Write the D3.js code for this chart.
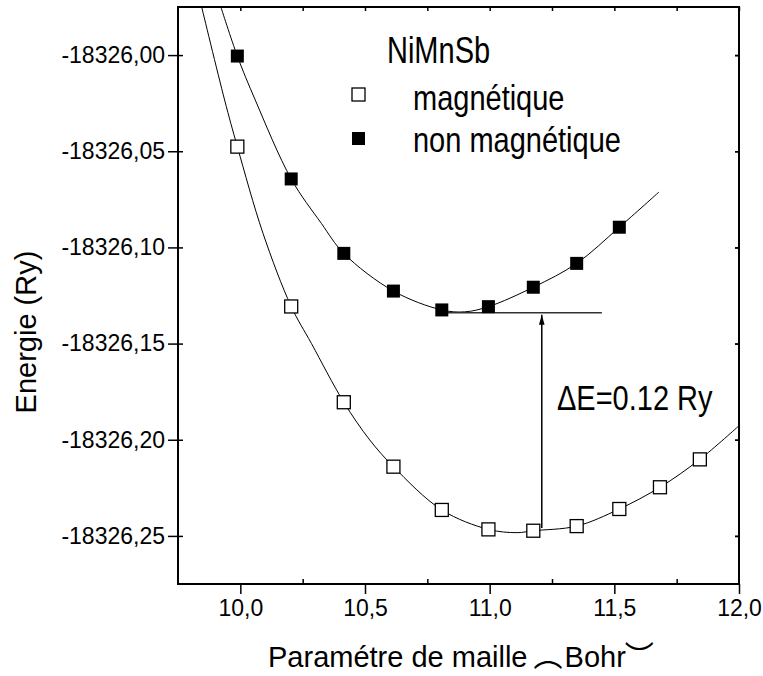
<!DOCTYPE html><meta charset="utf-8">
<html>
    <head>
        <title>NiMnSb energie</title>
        <script src="https://cdn.jsdelivr.net/npm/d3@7/dist/d3.min.js" type="text/JavaScript"></script>
        <style>
            body { margin: 0; background: #fff; }
            text { font-family: Arial, "Liberation Sans", sans-serif; fill: #000; }
        </style>
    </head>
    <body>
        <svg id='viz'></svg>

        <script>
            // data (lattice parameter in Bohr, energy in Ry)
            var magX = [9.988, 10.204, 10.415, 10.614, 10.808, 10.995, 11.175, 11.349, 11.520, 11.683, 11.843];
            var magE = [-18326.0476, -18326.1307, -18326.1805, -18326.2140, -18326.2365, -18326.2466,
                        -18326.2473, -18326.2449, -18326.2360, -18326.2247, -18326.2102];

            var nonMagX = [9.988, 10.204, 10.415, 10.614, 10.808, 10.995, 11.175, 11.349, 11.520];
            var nonMagE = [-18326.0005, -18326.0644, -18326.1031, -18326.1227, -18326.1325, -18326.1308,
                           -18326.1207, -18326.1083, -18326.0895];

            // fitted curves, also
            var fitMagX = [9.845, 9.937, 9.988, 10.091, 10.204, 10.285, 10.415, 10.519, 10.614, 10.808,
                           10.995, 11.11, 11.175, 11.349, 11.52, 11.683, 11.843, 12.0];
            var fitMagE = [-18325.975, -18326.0234, -18326.0476, -18326.0927, -18326.1307, -18326.1499,
                           -18326.1805, -18326.2001, -18326.2140, -18326.2365, -18326.2466, -18326.2483,
                           -18326.2473, -18326.2449, -18326.2360, -18326.2247, -18326.2102, -18326.1927];

            var fitNonMagX = [9.922, 9.988, 10.06, 10.204, 10.325, 10.415, 10.614, 10.808, 10.9, 10.995,
                              11.175, 11.349, 11.52, 11.679];
            var fitNonMagE = [-18325.975, -18326.0005, -18326.0234, -18326.0644, -18326.0875, -18326.1031,
                              -18326.1227, -18326.1325, -18326.1335, -18326.1308, -18326.1207, -18326.1083,
                              -18326.0895, -18326.0712];

            var xTicks = [10.0, 10.5, 11.0, 11.5, 12.0];
            var yTicks = [-18326.00, -18326.05, -18326.10, -18326.15, -18326.20, -18326.25];

            var deltaLevel = -18326.134;   // minimum of the non magnetic curve
            var deltaX = 11.209;
            var deltaBottom = -18326.2459;
            var deltaLine = [10.808, 11.45];

            var legendLabels = ["magnétique", "non magnétique"];

            var width = 763;
            var height = 676;
            var margin = {left: 178, top: 7, right: 24, bottom: 92};

            var svg = d3.select("#viz").attr("width", width).attr("height", height);

            var x = d3.scaleLinear().domain([9.75, 12.0]).range([margin.left, width - margin.right]);
            var y = d3.scaleLinear().domain([-18326.275, -18325.975]).range([height - margin.bottom, margin.top]);

            var comma = function(d, digits) { return d.toFixed(digits).replace(".", ","); };

            svg.append("clipPath").attr("id", "clip")
                .append("rect")
                .attr("x", x.range()[0]).attr("y", y.range()[1])
                .attr("width", x.range()[1] - x.range()[0])
                .attr("height", y.range()[0] - y.range()[1]);

            // axes: major ticks outward, minor ticks inward
            var xMinor = d3.range(10.25, 12.0, 0.5);
            var yMinor = d3.range(-18326.275, -18325.975, 0.05).map(function(d) { return d + 0.025; });

            var bottom = svg.append("g").attr("transform", "translate(0," + y.range()[0] + ")");
            bottom.call(d3.axisBottom(x).tickValues(xTicks).tickSizeInner(10).tickSizeOuter(0).tickPadding(6)
                .tickFormat(function(d) { return comma(d, 1); }));
            bottom.append("g").call(d3.axisTop(x).tickValues(xMinor).tickSize(5).tickSizeOuter(0).tickFormat(""));

            var left = svg.append("g").attr("transform", "translate(" + x.range()[0] + ",0)");
            left.call(d3.axisLeft(y).tickValues(yTicks).tickSizeInner(10).tickSizeOuter(0).tickPadding(3)
                .tickFormat(function(d) { return comma(d, 2); }));
            left.append("g").call(d3.axisRight(y).tickValues(yMinor).tickSize(5).tickSizeOuter(0).tickFormat(""));

            // mirrored ticks on top and right
            svg.append("g").attr("transform", "translate(0," + y.range()[1] + ")")
                .call(d3.axisBottom(x).tickValues(xTicks.concat(xMinor)).tickSize(4).tickSizeOuter(0).tickFormat(""));
            svg.append("g").attr("transform", "translate(" + x.range()[1] + ",0)")
                .call(d3.axisLeft(y).tickValues(yTicks.concat(yMinor)).tickSize(4).tickSizeOuter(0).tickFormat(""));

            svg.selectAll(".tick line").attr("stroke", "#000").attr("stroke-width", 1.5);
            svg.selectAll(".domain").remove();
            svg.selectAll(".tick text").style("font-size", "23px").attr("fill", "#000");

            // frame
            svg.append("rect")
                .attr("x", x.range()[0]).attr("y", y.range()[1])
                .attr("width", x.range()[1] - x.range()[0])
                .attr("height", y.range()[0] - y.range()[1])
                .attr("fill", "none").attr("stroke", "#000").attr("stroke-width", 2);

            var plot = svg.append("g").attr("clip-path", "url(#clip)");

            var line = d3.line()
                .x(function(d) { return x(d[0]); })
                .y(function(d) { return y(d[1]); })
                .curve(d3.curveCatmullRom.alpha(0.5));

            plot.append("path")
                .datum(d3.zip(fitMagX, fitMagE))
                .attr("d", line)
                .attr("fill", "none").attr("stroke", "#000").attr("stroke-width", 1);

            plot.append("path")
                .datum(d3.zip(fitNonMagX, fitNonMagE))
                .attr("d", line)
                .attr("fill", "none").attr("stroke", "#000").attr("stroke-width", 1);

            // delta E construction
            plot.append("line")
                .attr("x1", x(deltaLine[0])).attr("x2", x(deltaLine[1]))
                .attr("y1", y(deltaLevel)).attr("y2", y(deltaLevel))
                .attr("stroke", "#333").attr("stroke-width", 1.5);

            svg.append("defs").append("marker")
                .attr("id", "arrow")
                .attr("viewBox", "0 0 10 10")
                .attr("refX", 10).attr("refY", 5)
                .attr("markerWidth", 10).attr("markerHeight", 10)
                .attr("markerUnits", "userSpaceOnUse")
                .attr("orient", "auto")
                .append("path")
                .attr("d", "M0,2.2 L10,5 L0,7.8 Z")
                .attr("fill", "#000");

            plot.append("line")
                .attr("x1", x(deltaX)).attr("x2", x(deltaX))
                .attr("y1", y(deltaBottom)).attr("y2", y(deltaLevel) + 2)
                .attr("stroke", "#000").attr("stroke-width", 1.5)
                .attr("marker-end", "url(#arrow)");

            var size = 13;

            plot.selectAll(".mag")
                .data(d3.zip(magX, magE))
                .enter()
                .append("rect")
                .attr("class", "mag")
                .attr("x", function(d) { return x(d[0]) - size / 2; })
                .attr("y", function(d) { return y(d[1]) - size / 2; })
                .attr("width", size).attr("height", size)
                .attr("fill", "#fff").attr("stroke", "#000").attr("stroke-width", 1.3);

            plot.selectAll(".nonmag")
                .data(d3.zip(nonMagX, nonMagE))
                .enter()
                .append("rect")
                .attr("class", "nonmag")
                .attr("x", function(d) { return x(d[0]) - size / 2; })
                .attr("y", function(d) { return y(d[1]) - size / 2; })
                .attr("width", size).attr("height", size)
                .attr("fill", "#000");

            // texts in the plot are a bit taller than wide in the original
            function stretched(tx, ty, str, fs, sy) {
                return svg.append("text")
                    .attr("transform", "translate(" + tx + "," + ty + ") scale(1," + (sy || 1.2) + ")")
                    .style("font-size", fs + "px")
                    .text(str);
            }

            stretched(387, 63, "NiMnSb", 29, 1.25);
            stretched(557, 410, "ΔE=0.12 Ry", 29);

            // legend
            var legend = svg.append("g").attr("transform", "translate(352,88)");
            legend.append("rect").attr("x", 0).attr("y", 0).attr("width", size).attr("height", size)
                .attr("fill", "#fff").attr("stroke", "#000").attr("stroke-width", 1.3);
            legend.append("rect").attr("x", 0).attr("y", 44).attr("width", size).attr("height", size)
                .attr("fill", "#000");
            legendLabels.forEach(function(l, i) {
                stretched(413, 110 + i * 42, l, 29);
            });

            // axis titles; the brackets show up as vertical-form parentheses in the original
            var xTitle = svg.append("text")
                .attr("x", 268).attr("y", 667)
                .style("font-size", "29px");
            xTitle.append("tspan").text("Paramétre de maille ");
            xTitle.append("tspan").style("font-family", "'Noto Sans CJK JP'").style("font-size", "29px")
                .attr("dx", -2).text("︵");
            xTitle.append("tspan").attr("dx", 2).text("Bohr");
            xTitle.append("tspan").style("font-family", "'Noto Sans CJK JP'").style("font-size", "29px")
                .attr("dx", -1).text("︶");

            svg.append("text")
                .attr("transform", "translate(36,332) rotate(-90)")
                .attr("text-anchor", "middle")
                .style("font-size", "29px")
                .text("Energie (Ry)");
        </script>
    </body>
</html>
